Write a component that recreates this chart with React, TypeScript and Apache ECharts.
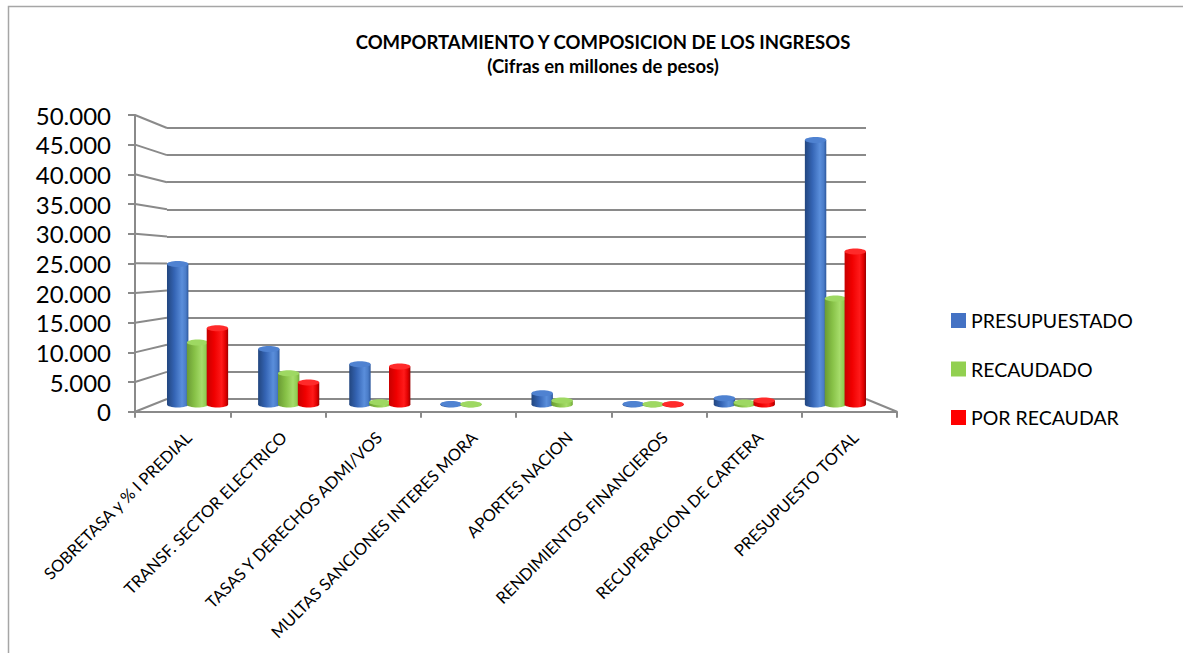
import React, { useEffect, useRef } from "react";
import * as echarts from "echarts";

const categories = [
  "SOBRETASA y % I PREDIAL",
  "TRANSF. SECTOR ELECTRICO",
  "TASAS Y DERECHOS ADMI/VOS",
  "MULTAS SANCIONES INTERES MORA",
  "APORTES NACION",
  "RENDIMIENTOS FINANCIEROS",
  "RECUPERACION DE CARTERA",
  "PRESUPUESTO TOTAL",
];
const presupuestado = [24900, 9850, 7150, 90, 2000, 80, 1120, 46900];
const recaudado = [11000, 5520, 400, 60, 700, 50, 350, 18800];
const porRecaudar = [13500, 3900, 6720, 0, 0, 40, 700, 27100];
const yTicks = [0, 5000, 10000, 15000, 20000, 25000, 30000, 35000, 40000, 45000, 50000];
const seriesNames = ["PRESUPUESTADO", "RECAUDADO", "POR RECAUDAR"];

const W = 1183;
const H = 653;
const BACK = { left: 167, right: W - 866, top: 128, bottom: H - 399 };
const FRONT = { left: 135, right: W - 897, top: 115, bottom: H - 411.7 };
const BARS = { left: 152, right: W - 881, top: 122.4, bottom: H - 404.5 };
const GRID_COLOR = "#8a8a8a";
const FONT = "Lato, 'Open Sans', sans-serif";

const palettes = [
  {
    legend: "#4472C4",
    body: ["#22467f", "#3565b5", "#5a8edb", "#4a7cc8", "#2c579c"],
    top: "#4f82d1",
  },
  {
    legend: "#92D050",
    body: ["#6a9a34", "#86c046", "#a6dc6a", "#90cc52", "#72a63a"],
    top: "#9ed862",
  },
  {
    legend: "#FF0000",
    body: ["#c80000", "#f00000", "#ff1a1a", "#e00000", "#9a0000"],
    top: "#ff2a2a",
  },
];

function fmt(v: number): string {
  return String(v).replace(/\B(?=(\d{3})+(?!\d))/g, ".");
}

function makeCylinderSeries(name: string, data: number[], si: number) {
  const pal = palettes[si];
  const offset = si - 1;
  return {
    type: "custom",
    name,
    xAxisIndex: 2,
    yAxisIndex: 2,
    itemStyle: { color: pal.legend },
    data: data.map((v, i) => [i, v]),
    z: 3 + si,
    renderItem: (params: any, api: any) => {
      const idx = api.value(0);
      const val = api.value(1);
      if (!(val > 0)) return { type: "group", children: [] };
      const top = api.coord([idx, val]);
      const base = api.coord([idx, 0]);
      const catW = api.size([1, 0])[0];
      const w = catW * 0.235;
      const cx = top[0] + offset * catW * 0.218;
      const rx = w / 2;
      const ry = 3;
      const grad = new echarts.graphic.LinearGradient(0, 0, 1, 0, [
        { offset: 0, color: pal.body[0] },
        { offset: 0.35, color: pal.body[1] },
        { offset: 0.7, color: pal.body[2] },
        { offset: 0.88, color: pal.body[3] },
        { offset: 1, color: pal.body[4] },
      ]);
      const h = Math.max(base[1] - top[1], 0);
      return {
        type: "group",
        children: [
          {
            type: "ellipse",
            shape: { cx, cy: base[1], rx, ry },
            style: { fill: grad },
          },
          {
            type: "rect",
            shape: { x: cx - rx, y: top[1], width: w, height: h },
            style: { fill: grad },
          },
          {
            type: "ellipse",
            shape: { cx, cy: top[1], rx, ry },
            style: { fill: pal.top },
          },
        ],
      };
    },
  };
}

export default function App() {
  const ref = useRef<HTMLDivElement>(null);
  useEffect(() => {
    if (!ref.current) return;
    const chart = echarts.init(ref.current, undefined, { renderer: "svg" });
    const axisLineStyle = { color: GRID_COLOR, width: 2 };
    chart.setOption({
      animation: false,
      backgroundColor: "#ffffff",
      title: {
        text: "COMPORTAMIENTO Y COMPOSICION DE LOS INGRESOS",
        subtext: "(Cifras en millones de pesos)",
        left: 598,
        top: 27,
        textAlign: "center",
        itemGap: 5,
        textStyle: { fontFamily: FONT, fontSize: 18.5, fontWeight: "bold", color: "#000" },
        subtextStyle: { fontFamily: FONT, fontSize: 18.5, fontWeight: "bold", color: "#000" },
      },
      legend: {
        orient: "vertical",
        left: 946,
        top: 305.5,
        itemWidth: 15,
        itemHeight: 15,
        itemGap: 28.5,
        icon: "rect",
        data: seriesNames,
        textStyle: { fontFamily: FONT, fontSize: 19.5, color: "#000" },
      },
      grid: [
        { ...BACK, containLabel: false },
        { ...FRONT, containLabel: false },
        { ...BARS, containLabel: false },
      ],
      xAxis: [
        { type: "category", gridIndex: 0, data: categories, show: false },
        {
          type: "category",
          gridIndex: 1,
          data: categories,
          axisLine: { show: true, lineStyle: axisLineStyle },
          axisTick: { show: true, interval: 0, length: 6, lineStyle: axisLineStyle },
          axisLabel: {
            interval: 0,
            rotate: 45,
            margin: 17,
            verticalAlign: "top",
            fontFamily: FONT,
            fontSize: 16.5,
            color: "#000",
          },
          splitLine: { show: false },
        },
        { type: "category", gridIndex: 2, data: categories, show: false },
      ],
      yAxis: [
        {
          type: "value",
          gridIndex: 0,
          min: 0,
          max: 50000,
          interval: 5000,
          axisLine: { show: false },
          axisTick: { show: false },
          axisLabel: { show: false },
          splitLine: { show: true, lineStyle: axisLineStyle },
        },
        {
          type: "value",
          gridIndex: 1,
          min: 0,
          max: 50000,
          interval: 5000,
          axisLine: { show: true, lineStyle: axisLineStyle },
          axisTick: { show: true, length: 7, lineStyle: axisLineStyle },
          axisLabel: {
            margin: 24,
            fontFamily: FONT,
            fontSize: 24,
            color: "#000",
            formatter: (v: number) => fmt(v),
          },
          splitLine: { show: false },
        },
        {
          type: "value",
          gridIndex: 2,
          min: 0,
          max: 50000,
          show: false,
          splitLine: { show: false },
        },
      ],
      series: [
        makeCylinderSeries(seriesNames[0], presupuestado, 0),
        makeCylinderSeries(seriesNames[1], recaudado, 1),
        makeCylinderSeries(seriesNames[2], porRecaudar, 2),
      ],
    });

    // perspective wall lines (left wall diagonals and right floor edge)
    const lines: any[] = yTicks.map((v) => {
      const yf = chart.convertToPixel({ yAxisIndex: 1 }, v) as number;
      const yb = chart.convertToPixel({ yAxisIndex: 0 }, v) as number;
      return {
        type: "line",
        z: 1,
        shape: { x1: FRONT.left, y1: yf, x2: BACK.left, y2: yb },
        style: { stroke: GRID_COLOR, lineWidth: 2 },
      };
    });
    const yf0 = chart.convertToPixel({ yAxisIndex: 1 }, 0) as number;
    const yb0 = chart.convertToPixel({ yAxisIndex: 0 }, 0) as number;
    lines.push({
      type: "line",
      z: 1,
      shape: { x1: W - BACK.right, y1: yb0, x2: W - FRONT.right, y2: yf0 },
      style: { stroke: GRID_COLOR, lineWidth: 2 },
    });
    lines.push({
      type: "rect",
      z: 0,
      shape: { x: 8.5, y: 6.5, width: 1300, height: 800 },
      style: { fill: "none", stroke: "#a6a6a6", lineWidth: 1.5 },
    });
    chart.setOption({ graphic: lines });

    return () => chart.dispose();
  }, []);
  return (
    <div
      ref={ref}
      style={{ position: "absolute", left: 0, top: 0, width: W, height: H }}
    />
  );
}
